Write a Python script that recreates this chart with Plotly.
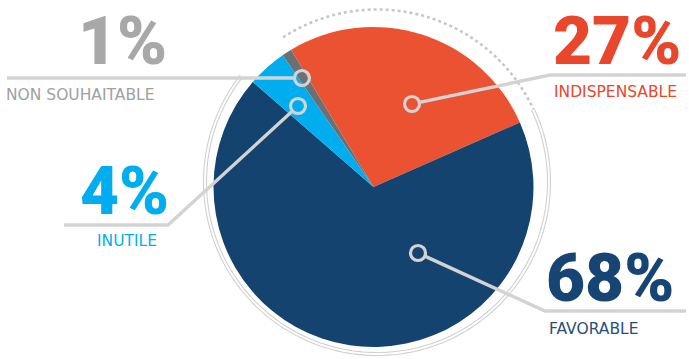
import numpy as np
import plotly.graph_objects as go

# ---------------- data ----------------
labels = ["INDISPENSABLE", "FAVORABLE", "INUTILE", "NON SOUHAITABLE"]
values = [27, 68, 4, 1]
pct_text = ["27%", "68%", "4%", "1%"]
slice_colors = ["#EB5232", "#15436F", "#00AEEF", "#6B7075"]
text_colors = ["#E8472B", "#164574", "#00AEEF", "#A8A8A8"]
sub_colors = ["#E8472B", "#2A4E78", "#00AEEF", "#A0A0A0"]

# ---------------- layout geometry (pixels) ----------------
W, H = 689, 359
CX, CY, R = 373.5, 187, 160          # pie
RCX, RCY = 377, 182                  # decorative ring centre
LINE_C = "#D3D3D3"
RING_C = "#D0D0D0"

# leader decorations: circle marker, elbow, end of horizontal rule
leaders = [
    dict(c=(412, 104), pts=[(550, 75), (686, 75)]),
    dict(c=(418, 253), pts=[(545, 311), (686, 311)]),
    dict(c=(298, 106), pts=[(168, 225), (64, 225)]),
    dict(c=(302, 78), pts=[(7, 78)]),
]
# number label anchors: (x, y_center, xanchor)
num_pos = [(553, 40, "left"), (546, 277, "left"), (169, 190, "right"), (167, 40, "right")]
sub_pos = [(554, 91.5, "left"), (548.5, 328.5, "left"), (96.5, 240.5, "left"), (5.5, 94.5, "left")]

fig = go.Figure()
fig.add_trace(go.Pie(
    labels=labels, values=values, sort=False, direction="clockwise", rotation=-31,
    marker=dict(colors=slice_colors, line=dict(width=0)),
    textinfo="none", hoverinfo="label+percent", showlegend=False,
    domain=dict(x=[(CX - R) / W, (CX + R) / W], y=[1 - (CY + R) / H, 1 - (CY - R) / H]),
))
fig.add_trace(go.Scatter(x=[0], y=[0], mode="markers", marker=dict(opacity=0),
                         hoverinfo="skip", showlegend=False))


def arc_path(r, a0, a1, n=200):
    a = np.radians(np.linspace(a0, a1, n))
    xs = RCX + r * np.sin(a)
    ys = RCY - r * np.cos(a)
    return "M " + " L ".join(f"{x:.2f},{y:.2f}" for x, y in zip(xs, ys))


shapes = []
# solid double ring
for rr in (170.5, 173.5):
    shapes.append(dict(type="path", path=arc_path(rr, 65, 308), xref="x", yref="y",
                       line=dict(color=RING_C, width=1.1), layer="below"))
# dotted arc
shapes.append(dict(type="path", path=arc_path(172.5, -33, 65), xref="x", yref="y",
                   line=dict(color="#C8C8C8", width=2.6, dash="dot"), layer="below"))

RC = 7.5
for L in leaders:
    cx, cy = L["c"]
    nx, ny = L["pts"][0]
    d = np.hypot(nx - cx, ny - cy)
    sx, sy = cx + (nx - cx) / d * RC, cy + (ny - cy) / d * RC
    pts = [(sx, sy)] + L["pts"]
    path = "M " + " L ".join(f"{x:.2f},{y:.2f}" for x, y in pts)
    shapes.append(dict(type="path", path=path, xref="x", yref="y",
                       line=dict(color=LINE_C, width=3.4), layer="above"))
    shapes.append(dict(type="circle", xref="x", yref="y", x0=cx - RC, x1=cx + RC,
                       y0=cy - RC, y1=cy + RC, line=dict(color=LINE_C, width=3.2),
                       fillcolor="rgba(0,0,0,0)", layer="above"))

annotations = []
for t, col, (x, y, xa) in zip(pct_text, text_colors, num_pos):
    annotations.append(dict(text=t, x=x, y=y, xref="x", yref="y", xanchor=xa, yanchor="middle",
                            showarrow=False, borderpad=0, borderwidth=0,
                            font=dict(family="Roboto", size=67.5, color=col, weight=900)))
for t, col, (x, y, xa) in zip(labels, sub_colors, sub_pos):
    annotations.append(dict(text=t, x=x, y=y, xref="x", yref="y", xanchor=xa, yanchor="middle",
                            showarrow=False, borderpad=0, borderwidth=0,
                            font=dict(family="DejaVu Sans", size=15.5, color=col, weight=400)))

fig.update_layout(
    width=W, height=H, margin=dict(l=0, r=0, t=0, b=0),
    paper_bgcolor="white", plot_bgcolor="rgba(0,0,0,0)",
    xaxis=dict(range=[0, W], visible=False, fixedrange=True, domain=[0, 1]),
    yaxis=dict(range=[H, 0], visible=False, fixedrange=True, domain=[0, 1]),
    shapes=shapes, annotations=annotations, showlegend=False,
)
fig.write_html("out.html")
